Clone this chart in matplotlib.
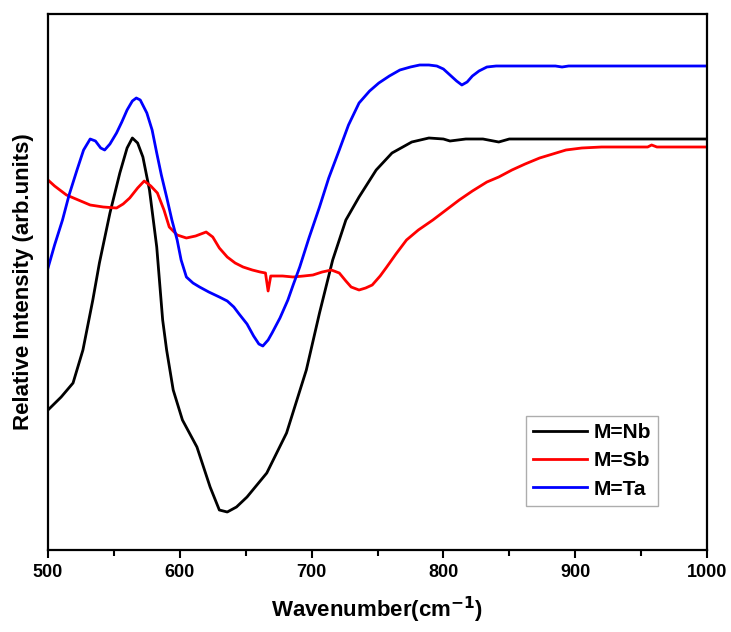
import numpy as np
import matplotlib
matplotlib.use("Agg")
import matplotlib.pyplot as plt
from matplotlib.ticker import MultipleLocator

plt.rcParams['font.family'] = ['Liberation Sans', 'DejaVu Sans']
plt.rcParams['font.weight'] = 'bold'
plt.rcParams['mathtext.default'] = 'bf'

# M=Nb
wn_nb = [500, 510, 519, 526.5, 534, 539, 547, 554.5, 560, 564, 568, 572, 577, 582.5,
         587, 590, 595, 602, 613, 623, 630, 636, 643, 651, 666, 681, 696, 706, 716,
         726, 736, 749, 761, 776, 789, 800, 805, 817, 830, 842, 850, 870, 900, 950, 1000]
int_nb = [140, 153, 167, 200, 250, 287, 337, 377, 402, 412, 407, 393, 360, 303,
          230, 200, 160, 130, 103, 63, 40, 38, 43, 53, 77, 117, 180, 237, 290,
          330, 353, 380, 397, 408, 412, 411, 409, 411, 411, 408, 411, 411, 411, 411, 411]

# M=Sb
wn_sb = [500, 505, 514, 523, 532, 542, 552, 557, 562, 568, 573, 578, 583, 588, 592,
         598, 605, 612, 620, 625, 630, 636, 642, 648, 655, 661, 665, 667, 669, 678,
         686, 694, 701, 708, 715, 721, 726, 730, 736, 741, 746, 752, 757, 764, 772,
         781, 792, 802, 812, 822, 833, 842, 852, 862, 873, 883, 893, 905, 920, 940,
         955, 958, 962, 980, 1000]
int_sb = [370, 364, 355, 350, 345, 343, 342, 346, 352, 362, 369, 364, 357, 340, 323,
          315, 312, 314, 318, 313, 302, 293, 287, 283, 280, 278, 277, 259, 274, 274,
          273, 274, 275, 278, 280, 277, 269, 263, 260, 262, 265, 274, 283, 296, 310,
          320, 330, 340, 350, 359, 368, 373, 380, 386, 392, 396, 400, 402, 403, 403,
          403, 405, 403, 403, 403]

# M=Ta
wn_ta = [500, 505, 511, 516, 522, 527, 532, 536, 540, 543, 547, 552, 556, 560, 564,
         567, 570, 575, 579, 582.5, 586, 590, 594, 598, 601, 605, 610, 615, 622, 630,
         636, 641, 645, 651, 656, 660, 663, 667, 670, 676, 682, 686, 691, 698, 706,
         713, 721, 728, 736, 744, 751, 759, 767, 775, 782, 789, 795, 800, 805, 810,
         814, 818, 822, 827, 833, 840, 860, 885, 890, 895, 920, 1000]
int_ta = [282, 305, 330, 355, 380, 400, 411, 409, 402, 400, 406, 417, 428, 440, 449,
          452, 450, 437, 420, 397, 375, 353, 330, 310, 290, 273, 267, 263, 258, 253,
          249, 243, 236, 226, 214, 206, 204, 210, 217, 232, 250, 265, 283, 312, 343,
          372, 400, 425, 447, 459, 467, 474, 480, 483, 485, 485, 484, 481, 475, 469,
          465, 468, 474, 479, 483, 484, 484, 484, 483, 484, 484, 484]

fig = plt.figure(figsize=(7.31, 6.32), dpi=100)
ax = fig.add_axes([48 / 731, 1 - 550 / 632, 659 / 731, 536 / 632])

ax.plot(wn_nb, int_nb, color='black', lw=2.0, label='M=Nb')
ax.plot(wn_sb, int_sb, color='#ff0000', lw=2.0, label='M=Sb')
ax.plot(wn_ta, int_ta, color='#0000ff', lw=2.0, label='M=Ta')

ax.set_xlim(500, 1000)
ax.set_ylim(0, 536)
ax.xaxis.set_major_locator(MultipleLocator(100))
ax.xaxis.set_minor_locator(MultipleLocator(50))
ax.tick_params(axis='x', which='major', direction='out', length=6, width=1.5,
               labelsize=13, pad=4)
ax.tick_params(axis='x', which='minor', direction='out', length=4, width=1.5)
ax.set_yticks([])
for sp in ax.spines.values():
    sp.set_linewidth(1.6)

ax.set_xlabel('Wavenumber(cm$^{-1}$)', fontsize=16, fontweight='bold', labelpad=10)
ax.set_ylabel('Relative Intensity (arb.units)', fontsize=16, fontweight='bold', labelpad=10)

leg = ax.legend(loc='lower right', bbox_to_anchor=(0.926, 0.082), fontsize=15,
                frameon=True, fancybox=False, handlelength=2.6, handletextpad=0.3,
                labelspacing=0.45, borderpad=0.35, borderaxespad=0)
leg.get_frame().set_edgecolor('#999999')
leg.get_frame().set_linewidth(1.0)
for t in leg.get_texts():
    t.set_fontweight('bold')

fig.savefig('out.png', dpi=100)
